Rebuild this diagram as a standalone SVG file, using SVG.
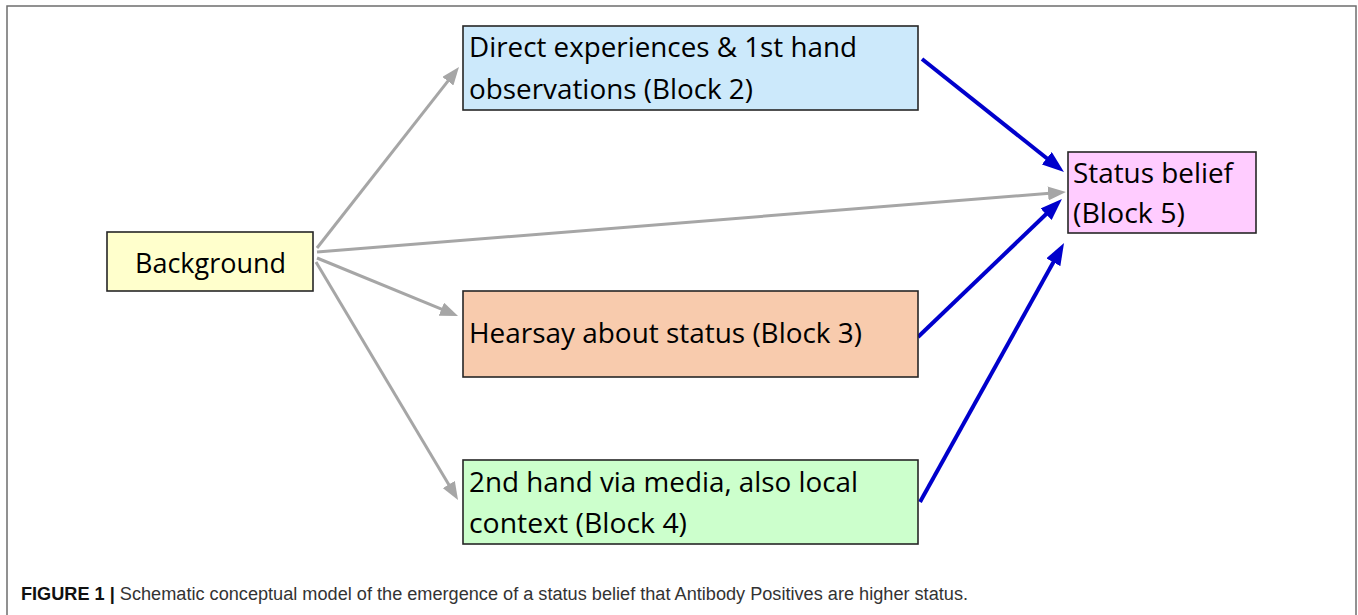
<svg xmlns="http://www.w3.org/2000/svg" width="1358" height="615" viewBox="0 0 1358 615">
<style>
.box{stroke:#262626;stroke-width:1.6}
.lbl{font-family:"Open Sans","Noto Sans","Liberation Sans",sans-serif;font-size:28px;fill:#000}
.gray{stroke:#a6a6a6;stroke-width:3;fill:none}
.blue{stroke:#0000cc;stroke-width:4;fill:none}
.cap{font-family:"Liberation Sans",Arial,sans-serif;font-size:18px;fill:#333}
</style>
<defs>
<marker id="ag" markerUnits="userSpaceOnUse" markerWidth="18" markerHeight="14" refX="8" refY="7" orient="auto">
<path d="M0,0 L18,7 L0,14 z" fill="#a6a6a6"/>
</marker>
<marker id="ab" markerUnits="userSpaceOnUse" markerWidth="22" markerHeight="16" refX="10" refY="8" orient="auto">
<path d="M0,0 L22,8 L0,16 z" fill="#0000cc"/>
</marker>
</defs>
<rect x="0" y="0" width="1358" height="615" fill="#fff"/>
<rect x="7" y="6" width="1349" height="620" fill="none" stroke="#6e6e6e" stroke-width="1.5"/>
<g id="connectors">
<line class="gray" x1="317" y1="248" x2="452.8" y2="74.9" marker-end="url(#ag)"/>
<line class="gray" x1="317" y1="252" x2="1056" y2="192.8" marker-end="url(#ag)"/>
<line class="gray" x1="317" y1="258" x2="448.8" y2="312.2" marker-end="url(#ag)"/>
<line class="gray" x1="316" y1="262" x2="452.9" y2="491.4" marker-end="url(#ag)"/>
<line class="blue" x1="922" y1="59" x2="1054.6" y2="164.5" marker-end="url(#ab)"/>
<line class="blue" x1="918" y1="337" x2="1053.3" y2="207.3" marker-end="url(#ab)"/>
<line class="blue" x1="920" y1="502" x2="1058.2" y2="253.5" marker-end="url(#ab)"/>
</g>
<g id="background">
<rect class="box" x="107" y="232" width="206" height="59" fill="#ffffcc"/>
<text class="lbl" x="135" y="273" textLength="151" lengthAdjust="spacingAndGlyphs">Background</text>
</g>
<g id="block2">
<rect class="box" x="463" y="26" width="455" height="84" fill="#cce9fb"/>
<text class="lbl" x="469" y="57" textLength="388" lengthAdjust="spacingAndGlyphs">Direct experiences &amp; 1st hand</text>
<text class="lbl" x="469" y="99" textLength="284" lengthAdjust="spacingAndGlyphs">observations (Block 2)</text>
</g>
<g id="block3">
<rect class="box" x="463" y="291" width="455" height="86" fill="#f8cbad"/>
<text class="lbl" x="469" y="343" textLength="393" lengthAdjust="spacingAndGlyphs">Hearsay about status (Block 3)</text>
</g>
<g id="block4">
<rect class="box" x="463" y="460" width="455" height="84" fill="#ccffcc"/>
<text class="lbl" x="469" y="492" textLength="389" lengthAdjust="spacingAndGlyphs">2nd hand via media, also local</text>
<text class="lbl" x="469" y="533" textLength="218" lengthAdjust="spacingAndGlyphs">context (Block 4)</text>
</g>
<g id="block5">
<rect class="box" x="1068" y="152" width="188" height="81" fill="#ffccff"/>
<text class="lbl" x="1073" y="183" textLength="160" lengthAdjust="spacingAndGlyphs">Status belief</text>
<text class="lbl" x="1073" y="223" textLength="112" lengthAdjust="spacingAndGlyphs">(Block 5)</text>
</g>
<text class="cap" x="21" y="600" textLength="947" lengthAdjust="spacingAndGlyphs"><tspan font-weight="bold" fill="#111">FIGURE 1 |</tspan> Schematic conceptual model of the emergence of a status belief that Antibody Positives are higher status.</text>
</svg>
